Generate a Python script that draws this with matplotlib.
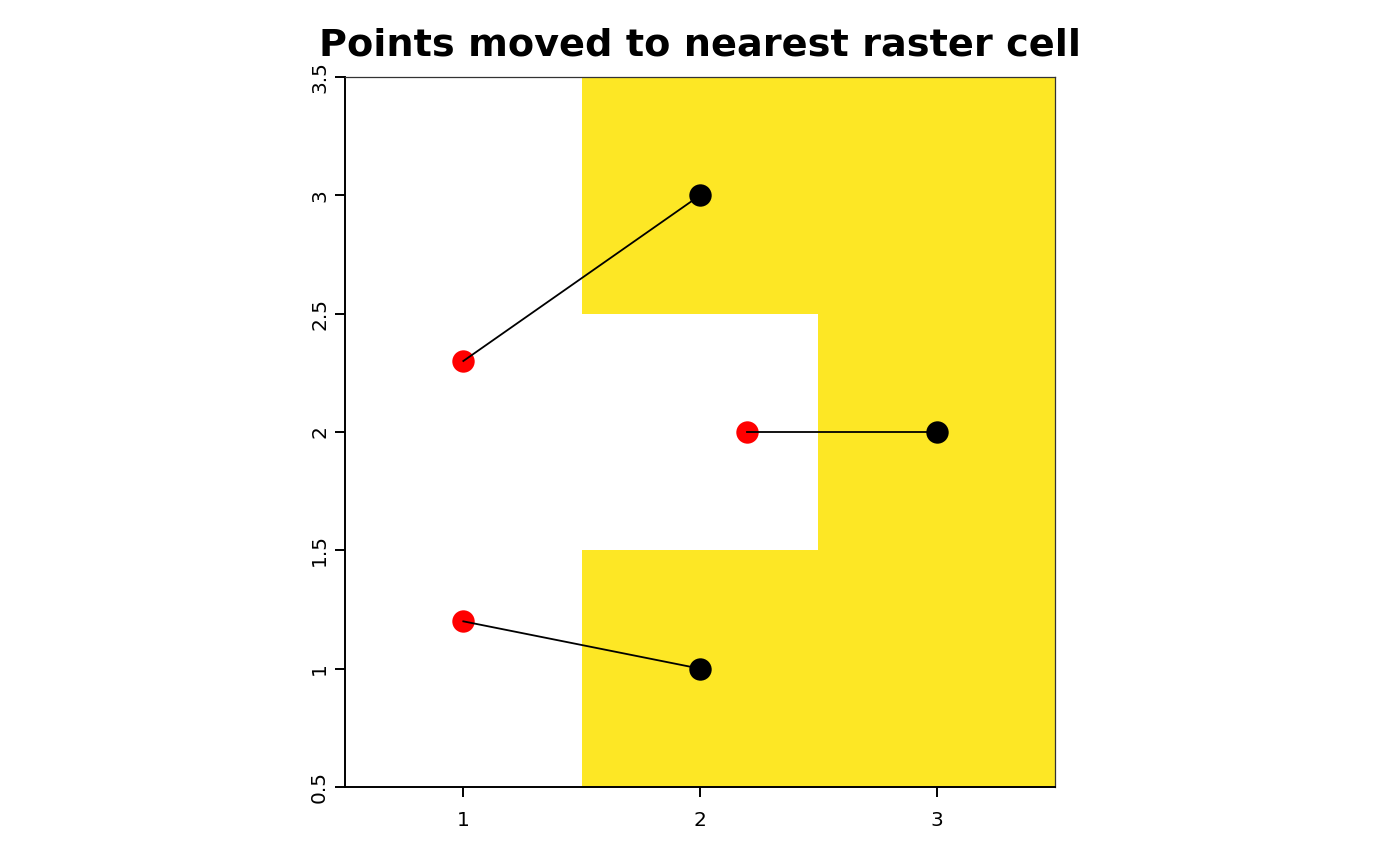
import numpy as np
import matplotlib
matplotlib.use("Agg")
import matplotlib.pyplot as plt
from matplotlib.colors import ListedColormap

# raster cells (rows = y 1..3, cols = x 1..3); NaN = empty cell
raster_x = [1, 2, 3]
raster_y = [1, 2, 3]
raster_vals = np.array([
    [np.nan, 1, 1],   # y = 1
    [np.nan, np.nan, 1],  # y = 2
    [np.nan, 1, 1],   # y = 3
])

orig_x = [1.0, 2.2, 1.0]
orig_y = [2.3, 2.0, 1.2]
moved_x = [2, 3, 2]
moved_y = [3, 2, 1]

xticks = [1, 2, 3]
yticks = [0.5, 1, 1.5, 2, 2.5, 3, 3.5]
ytick_labels = ["0.5", "1", "1.5", "2", "2.5", "3", "3.5"]

fig = plt.figure(figsize=(14, 8.65), dpi=100)
ax = fig.add_axes([345/1400, 1-787/865, 710/1400, 710/865])

xe = np.array([0.5, 1.5, 2.5, 3.5])
ye = np.array([0.5, 1.5, 2.5, 3.5])
masked = np.ma.masked_invalid(raster_vals)
ax.pcolormesh(xe, ye, masked, cmap=ListedColormap(["#FDE725"]), vmin=0, vmax=2,
              shading="flat", zorder=1)

ax.scatter(moved_x, moved_y, s=260, color="black", zorder=3, linewidths=0)
ax.scatter(orig_x, orig_y, s=260, color="red", zorder=3, linewidths=0)
for x0, y0, x1, y1 in zip(orig_x, orig_y, moved_x, moved_y):
    ax.plot([x0, x1], [y0, y1], color="black", lw=1.3, zorder=4)

ax.set_xlim(0.5, 3.5)
ax.set_ylim(0.5, 3.5)
ax.set_xticks(xticks)
ax.set_yticks(yticks)
ax.set_yticklabels(ytick_labels, rotation=90, va="center")
ax.tick_params(axis="both", labelsize=14.5, length=7.5, width=1.4, direction="out")
ax.tick_params(axis="x", pad=10)
ax.tick_params(axis="y", pad=4)

for s in ["left", "bottom"]:
    ax.spines[s].set_linewidth(1.4)
    ax.spines[s].set_color("black")
for s in ["top", "right"]:
    ax.spines[s].set_linewidth(0.9)
    ax.spines[s].set_color("#333333")

fig.text(0.5, 1-45/865, "Points moved to nearest raster cell", ha="center", va="center",
         fontsize=27.5, fontweight="bold")

fig.savefig("out.png", dpi=100)
